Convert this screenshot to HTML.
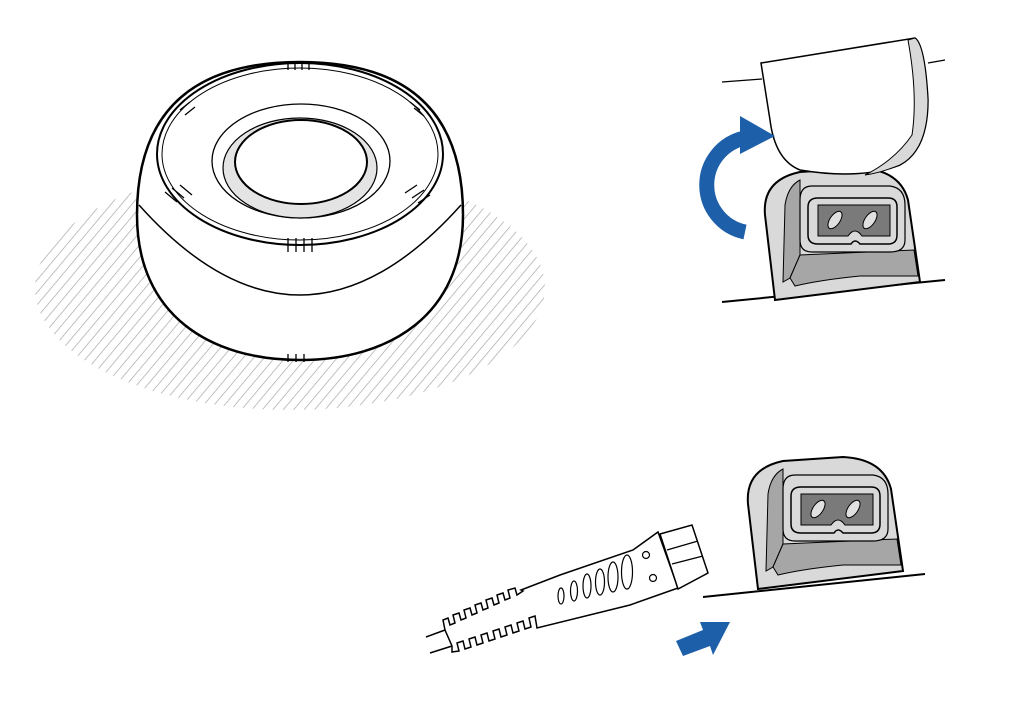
<!DOCTYPE html>
<html><head><style>html,body{margin:0;padding:0;background:#fff}svg{display:block}</style></head>
<body>
<svg width="1024" height="709" viewBox="0 0 1024 709" xmlns="http://www.w3.org/2000/svg">
<defs>
<pattern id="h" width="8" height="8" patternUnits="userSpaceOnUse" patternTransform="rotate(40)">
<line x1="0" y1="0" x2="0" y2="8" stroke="#a0a0a0" stroke-width="1.3"/>
</pattern>
<g id="sock">
<path d="M775,300 L765,215 Q762,180 800,172 L860,168 Q900,170 908,200 L920,282 Z" fill="#d9d9d9" stroke="#000" stroke-width="2"/>
<path d="M783,282 L785,205 Q788,186 800,180 L800,255 L790,278 Z" fill="#a6a6a6" stroke="#000" stroke-width="1"/>
<path d="M790,278 L800,255 L914,250 L918,276 L860,276 Q820,280 795,286 Z" fill="#a6a6a6" stroke="#000" stroke-width="1"/>
<path d="M812,186 L890,186 Q905,188 905,205 L905,240 Q905,252 890,252 L812,252 Q800,252 800,240 L800,200 Q800,186 812,186 Z" fill="#d9d9d9" stroke="#000" stroke-width="1.2"/>
<path d="M818,198 L888,198 Q897,198 897,207 L897,235 Q897,244 888,244 L860,244 Q855,238 851,244 L818,244 Q808,244 808,235 L808,207 Q808,198 818,198 Z" fill="#d9d9d9" stroke="#000" stroke-width="1.5"/>
<path d="M818,205 L890,205 L890,236 L862,236 Q855,226 848,236 L818,236 Z" fill="#7a7a7a" stroke="#000" stroke-width="1"/>
<ellipse cx="835" cy="220" rx="5" ry="10" transform="rotate(35 835 220)" fill="#e0e0e0" stroke="#000"/>
<ellipse cx="870" cy="220" rx="5" ry="10" transform="rotate(35 870 220)" fill="#e0e0e0" stroke="#000"/>
</g>
</defs>

<ellipse cx="290" cy="288" rx="255" ry="122" fill="url(#h)"/>

<!-- puck -->
<path d="M137,215 C137,105 200,62 300,62 C400,62 463,105 463,215 C463,315 390,360 300,360 C210,360 137,315 137,215 Z" fill="#fff" stroke="#000" stroke-width="2.5"/>
<path d="M139,205 Q300,385 461,205" fill="none" stroke="#000" stroke-width="1.5"/>
<ellipse cx="300" cy="154" rx="143" ry="91" fill="none" stroke="#000" stroke-width="2"/>
<ellipse cx="300" cy="154" rx="138" ry="86" fill="none" stroke="#000" stroke-width="1"/>
<ellipse cx="301" cy="161" rx="89" ry="57" fill="#fff" stroke="#000" stroke-width="1.3"/>
<ellipse cx="300" cy="168" rx="77" ry="50" fill="#e4e4e4" stroke="#000" stroke-width="1.2"/>
<ellipse cx="301" cy="162" rx="66" ry="42" fill="#fff" stroke="#000" stroke-width="2"/>
<g stroke="#000" stroke-width="1.3" fill="none">
<path d="M288,62 v8 M295,62 v8 M302,62 v8 M309,62 v8"/>
<path d="M288,238 v14 M296,238 v14 M304,238 v14 M312,238 v14"/>
<path d="M288,354 v8 M296,354 v8 M304,354 v8"/>
<path d="M165,192 l12,10 M172,188 l12,10 M180,185 l12,10"/>
<path d="M405,193 l12,-8 M412,198 l12,-8 M418,203 l12,-8"/>
<path d="M180,110 l10,-8 M185,115 l10,-8 M410,102 l10,8 M414,108 l10,8"/>
</g>

<!-- top right socket -->
<line x1="722" y1="302" x2="945" y2="280" stroke="#000" stroke-width="2"/>
<use href="#sock"/>
<line x1="722" y1="82" x2="762" y2="79" stroke="#000" stroke-width="1.3"/>
<line x1="928" y1="63" x2="945" y2="60" stroke="#000" stroke-width="1.3"/>
<path d="M761,63 L915,38 Q925,45 928,100 Q928,150 900,165 Q860,180 800,170 Q775,160 770,120 Z" fill="#fff" stroke="#000" stroke-width="1.5"/>
<path d="M915,38 Q925,45 928,100 Q928,150 900,165 Q880,173 865,175 Q895,160 912,135 Q918,95 908,40 Z" fill="#d9d9d9" stroke="#000" stroke-width="1"/>
<path d="M745,232 A48,48 0 0 1 745,138" fill="none" stroke="#1d5fa8" stroke-width="15"/>
<polygon points="740,116 775,136 740,154" fill="#1d5fa8"/>

<!-- bottom socket -->
<line x1="703" y1="597" x2="925" y2="574" stroke="#000" stroke-width="2"/>
<use href="#sock" transform="translate(-17,289)"/>

<!-- plug -->
<line x1="426" y1="637" x2="445" y2="630" stroke="#000" stroke-width="1.5"/>
<line x1="430" y1="653" x2="452" y2="646" stroke="#000" stroke-width="1.5"/>
<path d="M445,630 L443,620 L448,618 L450,625 L455,623 L453,615 L459,613 L461,620 L466,618 L464,610 L470,608 L472,615 L477,613 L475,605 L481,603 L483,610 L488,608 L486,600 L492,598 L494,605 L499,603 L497,595 L503,593 L505,600 L510,598 L508,590 L515,588 L517,595 L523,591 L521,590 L560,575 L633,550 L658,532 L678,588 L630,605 L537,628 L535,616 L529,618 L531,627 L525,629 L523,621 L517,623 L519,631 L513,633 L511,625 L505,627 L507,635 L501,637 L499,629 L493,631 L495,639 L489,641 L487,633 L481,635 L483,643 L477,645 L475,637 L469,639 L471,647 L465,649 L463,641 L457,643 L459,651 L452,652 L452,646 Z" fill="#fff" stroke="#000" stroke-width="1.5"/>
<polygon points="660,534 692,525 708,573 678,589" fill="#fff" stroke="#000" stroke-width="1.5"/>
<line x1="667" y1="550" x2="698" y2="541" stroke="#000" stroke-width="1.3"/>
<line x1="672" y1="564" x2="703" y2="556" stroke="#000" stroke-width="1.3"/>
<g fill="none" stroke="#000" stroke-width="1.2">
<ellipse cx="561" cy="596" rx="3" ry="8"/>
<ellipse cx="574" cy="591" rx="3.5" ry="10"/>
<ellipse cx="587" cy="586" rx="4" ry="12"/>
<ellipse cx="600" cy="582" rx="4.5" ry="13"/>
<ellipse cx="613" cy="577" rx="5" ry="15"/>
<ellipse cx="627" cy="572" rx="5.5" ry="17"/>
<circle cx="646" cy="555" r="3.5"/>
<circle cx="653" cy="578" r="3.5"/>
</g>
<polygon points="676,641 703,630 700,622 730,622 713,655 710,646 683,656" fill="#1d5fa8"/>
</svg>
</body></html>
